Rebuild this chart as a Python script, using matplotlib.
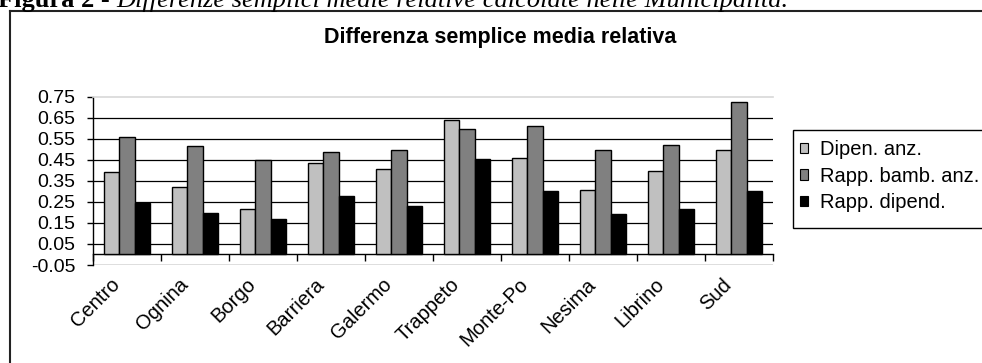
import matplotlib
matplotlib.use("Agg")
import matplotlib.pyplot as plt
import matplotlib.patches as mpatches
import matplotlib.transforms as mtransforms
from matplotlib.lines import Line2D
import numpy as np

# ── Data ──────────────────────────────────────────────────────────────────────
municipalita = ["Centro", "Ognina", "Borgo", "Barriera", "Galermo",
                "Trappeto", "Monte-Po", "Nesima", "Librino", "Sud"]
dipen_anz = [0.39, 0.32, 0.215, 0.435, 0.405, 0.64, 0.457, 0.306, 0.399, 0.496]
rapp_bamb_anz = [0.558, 0.518, 0.451, 0.489, 0.496, 0.596, 0.611, 0.496, 0.52, 0.725]
rapp_dipend = [0.247, 0.199, 0.17, 0.276, 0.231, 0.453, 0.30, 0.194, 0.217, 0.30]
series_names = ["Dipen. anz.", "Rapp. bamb. anz.", "Rapp. dipend."]
y_ticks = [-0.05, 0.05, 0.15, 0.25, 0.35, 0.45, 0.55, 0.65, 0.75]

colors = ["#c0c0c0", "#808080", "#000000"]
SANS = "Liberation Sans"
SERIF = "Liberation Serif"

fig = plt.figure(figsize=(9.82, 3.63), dpi=100)
W, H = 982, 363

# ── Caption above the chart box (partly cut by the top edge, as in the source)
cap1 = fig.text(-2 / W, 1 - 12 / H, "Figura 2 - ", fontfamily=SERIF,
                fontweight="bold", fontsize=19, va="bottom", ha="left")
fig.canvas.draw()
bb = cap1.get_window_extent()
fig.text(bb.x1 / W, 1 - 12 / H,
         "Differenze semplici medie relative calcolate nelle Municipalità.",
         fontfamily=SERIF, fontstyle="italic", fontsize=19,
         va="bottom", ha="left")

# ── Chart frame (left and top edges visible) ──────────────────────────────────
fig.add_artist(Line2D([10 / W, 10 / W], [0, 1 - 11 / H], color="#222222",
                      lw=1.5, transform=fig.transFigure))
fig.add_artist(Line2D([10 / W, 1], [1 - 11 / H, 1 - 11 / H], color="#222222",
                      lw=1.5, transform=fig.transFigure))

fig.text(500 / W, 1 - 37 / H, "Differenza semplice media relativa",
         fontfamily=SANS, fontweight="bold", fontsize=15.5,
         ha="center", va="center")

# ── Plot area ─────────────────────────────────────────────────────────────────
ax = fig.add_axes([93 / W, (H - 265) / H, 680 / W, 168.3 / H])
x = np.arange(len(municipalita))
w = 0.225
for k, (vals, name) in enumerate(zip([dipen_anz, rapp_bamb_anz, rapp_dipend],
                                     series_names)):
    ax.bar(x + (k - 1) * w, vals, width=w, color=colors[k], edgecolor="black",
           linewidth=1.0, label=name, zorder=3)

ax.set_xlim(-0.5, len(municipalita) - 0.5)
ax.set_ylim(-0.05, 0.75)
for v in y_ticks[1:-1]:
    ax.axhline(v, color="black", lw=0.9, zorder=1)
ax.axhline(-0.05, color="#d8d8d8", lw=1.2, zorder=1)

ax.spines["right"].set_visible(False)
ax.spines["top"].set_color("#d8d8d8")
ax.spines["top"].set_linewidth(1.2)
ax.spines["left"].set_linewidth(1.0)
ax.spines["bottom"].set_position(("data", 0))
ax.spines["bottom"].set_linewidth(1.0)

ax.set_yticks(y_ticks)
ax.set_yticklabels([f"{v:.2f}" for v in y_ticks], fontfamily=SANS, fontsize=14)
ax.tick_params(axis="y", direction="out", length=4.5, width=1.0, pad=8)

ax.set_xticks(x)
ax.tick_params(axis="x", which="major", length=0, labelbottom=False)
ax.set_xticks(np.arange(-0.5, len(municipalita)), minor=True)
ax.tick_params(axis="x", which="minor", direction="out", length=5, width=1.0)

# rotated category labels under the plot area
offset = mtransforms.ScaledTranslation(-10 / 100, -27 / 100, fig.dpi_scale_trans)
for i, name in enumerate(municipalita):
    ax.text(i, 0, name, transform=ax.transData + offset, rotation=45,
            rotation_mode="anchor", ha="right", va="center",
            fontfamily=SANS, fontsize=14.5)

# ── Legend ────────────────────────────────────────────────────────────────────
fig.add_artist(mpatches.Rectangle((793 / W, 1 - 228 / H), 200 / W, 98 / H,
                                  transform=fig.transFigure, facecolor="white",
                                  edgecolor="black", linewidth=1.0))
handles = [mpatches.Patch(facecolor=c, edgecolor="black", linewidth=0.8, label=n)
           for c, n in zip(colors, series_names)]
leg = fig.legend(handles=handles, loc="upper left",
                 bbox_to_anchor=(800 / W, 1 - 140 / H),
                 prop={"family": SANS, "size": 14.5},
                 frameon=False,
                 handlelength=0.4, handleheight=0.4, handletextpad=0.6,
                 labelspacing=0.38, borderpad=0, borderaxespad=0)

fig.savefig("out.png", dpi=100)
